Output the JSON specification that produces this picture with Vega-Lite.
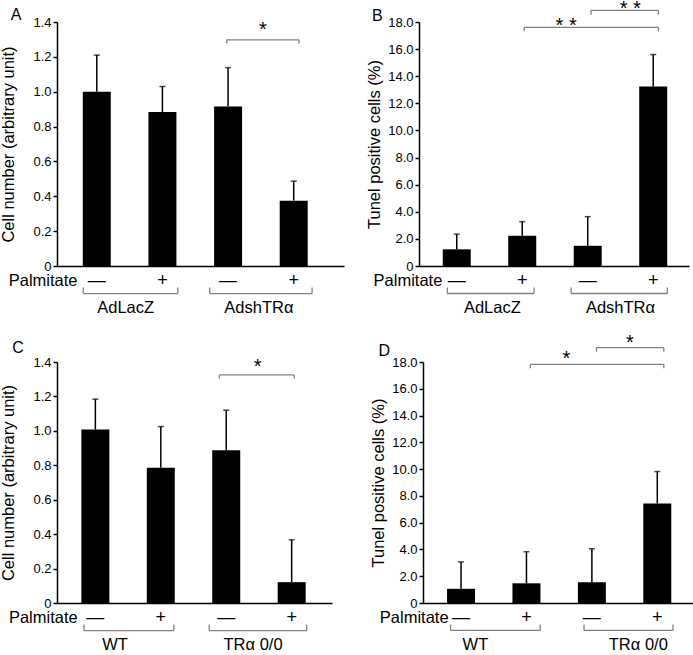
{
  "$schema": "https://vega.github.io/schema/vega-lite/v6.json",
  "padding": {"left": 0, "top": -2, "right": 0, "bottom": 0},
  "spacing": 16,
  "datasets": {
    "A": [
      {"k": "bar", "x": 1, "y": 1.0, "u": 1.21},
      {"k": "bar", "x": 2, "y": 0.883, "u": 1.03},
      {"k": "bar", "x": 3, "y": 0.915, "u": 1.138},
      {"k": "bar", "x": 4, "y": 0.375, "u": 0.487},
      {"k": "sign", "x": 1, "y": -0.086, "t": "—"},
      {"k": "sign", "x": 2, "y": -0.086, "t": "+"},
      {"k": "sign", "x": 3, "y": -0.086, "t": "—"},
      {"k": "sign", "x": 4, "y": -0.086, "t": "+"},
      {"k": "br", "x": 0.794, "x2": 2.235, "y": -0.158, "y2": -0.123},
      {"k": "br", "x": 2.72, "x2": 4.28, "y": -0.158, "y2": -0.123},
      {"k": "br", "x": 2.98, "x2": 4.08, "y": 1.298, "y2": 1.277},
      {"k": "lab", "x": 1.44, "y": -0.241, "t": "AdLacZ"},
      {"k": "lab", "x": 3.47, "y": -0.241, "t": "AdshTRα"},
      {"k": "star", "x": 3.53, "y": 1.38, "t": "*"},
      {"k": "palm", "x": 0.706, "y": -0.088, "t": "Palmitate"},
      {"k": "let", "x": -0.31, "y": 1.411, "t": "A"}
    ],
    "B": [
      {"k": "bar", "x": 1, "y": 1.23, "u": 2.35},
      {"k": "bar", "x": 2, "y": 2.23, "u": 3.27},
      {"k": "bar", "x": 3, "y": 1.49, "u": 3.64},
      {"k": "bar", "x": 4, "y": 13.25, "u": 15.6},
      {"k": "sign", "x": 1, "y": -1.106, "t": "—"},
      {"k": "sign", "x": 2, "y": -1.106, "t": "+"},
      {"k": "sign", "x": 3, "y": -1.106, "t": "—"},
      {"k": "sign", "x": 4, "y": -1.106, "t": "+"},
      {"k": "br", "x": 0.857, "x2": 2.18, "y": -2.03, "y2": -1.585},
      {"k": "br", "x": 2.746, "x2": 4.216, "y": -2.03, "y2": -1.585},
      {"k": "br", "x": 2.03, "x2": 4.08, "y": 17.6, "y2": 17.31},
      {"k": "br", "x": 3.05, "x2": 4.08, "y": 18.86, "y2": 18.53},
      {"k": "lab", "x": 1.544, "y": -3.1, "t": "AdLacZ"},
      {"k": "lab", "x": 3.5, "y": -3.1, "t": "AdshTRα"},
      {"k": "star", "x": 2.67, "y": 18.07, "t": "* *"},
      {"k": "star", "x": 3.65, "y": 19.36, "t": "* *"},
      {"k": "palm", "x": 0.78, "y": -1.13, "t": "Palmitate"},
      {"k": "let", "x": -0.294, "y": 18.05, "t": "B"}
    ],
    "C": [
      {"k": "bar", "x": 1, "y": 1.008, "u": 1.184},
      {"k": "bar", "x": 2, "y": 0.786, "u": 1.025},
      {"k": "bar", "x": 3, "y": 0.887, "u": 1.12},
      {"k": "bar", "x": 4, "y": 0.121, "u": 0.367},
      {"k": "sign", "x": 1, "y": -0.087, "t": "—"},
      {"k": "sign", "x": 2, "y": -0.087, "t": "+"},
      {"k": "sign", "x": 3, "y": -0.087, "t": "—"},
      {"k": "sign", "x": 4, "y": -0.087, "t": "+"},
      {"k": "br", "x": 0.826, "x2": 2.2, "y": -0.16, "y2": -0.125},
      {"k": "br", "x": 2.74, "x2": 4.23, "y": -0.16, "y2": -0.125},
      {"k": "br", "x": 2.894, "x2": 4.04, "y": 1.325, "y2": 1.302},
      {"k": "lab", "x": 1.3, "y": -0.244, "t": "WT"},
      {"k": "lab", "x": 3.41, "y": -0.244, "t": "TRα 0/0"},
      {"k": "star", "x": 3.48, "y": 1.402, "t": "*"},
      {"k": "palm", "x": 0.73, "y": -0.089, "t": "Palmitate"},
      {"k": "let", "x": -0.27, "y": 1.45, "t": "C"}
    ],
    "D": [
      {"k": "bar", "x": 1, "y": 1.06, "u": 3.07},
      {"k": "bar", "x": 2, "y": 1.47, "u": 3.83},
      {"k": "bar", "x": 3, "y": 1.55, "u": 4.05},
      {"k": "bar", "x": 4, "y": 7.44, "u": 9.82},
      {"k": "sign", "x": 1, "y": -1.12, "t": "—"},
      {"k": "sign", "x": 2, "y": -1.12, "t": "+"},
      {"k": "sign", "x": 3, "y": -1.12, "t": "—"},
      {"k": "sign", "x": 4, "y": -1.12, "t": "+"},
      {"k": "br", "x": 0.84, "x2": 2.21, "y": -2.05, "y2": -1.606},
      {"k": "br", "x": 2.88, "x2": 4.24, "y": -2.05, "y2": -1.606},
      {"k": "br", "x": 2.06, "x2": 4.1, "y": 17.83, "y2": 17.53},
      {"k": "br", "x": 3.07, "x2": 4.1, "y": 19.07, "y2": 18.77},
      {"k": "lab", "x": 1.22, "y": -3.14, "t": "WT"},
      {"k": "lab", "x": 3.71, "y": -3.14, "t": "TRα 0/0"},
      {"k": "star", "x": 2.61, "y": 18.57, "t": "*"},
      {"k": "star", "x": 3.58, "y": 19.77, "t": "*"},
      {"k": "palm", "x": 0.81, "y": -1.14, "t": "Palmitate"},
      {"k": "let", "x": -0.26, "y": 18.47, "t": "D"}
    ]
  },
  "vconcat": [
    {
      "spacing": 22,
      "hconcat": [
        {
          "width": 287, "height": 244,
          "data": {"name": "A"},
          "layer": [
            {"transform": [{"filter": "datum.k=='bar'"}], "mark": {"type": "bar", "size": 28, "color": "black"},
             "encoding": {"x": {"field": "x", "type": "quantitative", "scale": {"domain": [0.47, 4.69]}, "axis": {"title": null, "ticks": false, "labels": false}},
                          "y": {"field": "y", "type": "quantitative", "scale": {"domain": [0, 1.4]}, "axis": {"title": "Cell number (arbitrary unit)", "values": [0, 0.2, 0.4, 0.6, 0.8, 1, 1.2, 1.4], "tickCount": 20, "labelExpr": "datum.value==0?'0':format(datum.value,'.1f')", "titlePadding": 16, "labelOverlap": false, "labelFlush": false, "labelBound": false}}}},
            {"transform": [{"filter": "datum.k=='bar'"}], "mark": {"type": "rule", "color": "black", "strokeWidth": 1.5},
             "encoding": {"x": {"field": "x", "type": "quantitative", "scale": {"domain": [0.47, 4.69]}}, "y": {"field": "y", "type": "quantitative", "scale": {"domain": [0, 1.4]}}, "y2": {"field": "u"}}},
            {"transform": [{"filter": "datum.k=='bar'"}], "mark": {"type": "tick", "orient": "horizontal", "size": 6, "thickness": 1.5, "color": "black"},
             "encoding": {"x": {"field": "x", "type": "quantitative", "scale": {"domain": [0.47, 4.69]}}, "y": {"field": "u", "type": "quantitative", "scale": {"domain": [0, 1.4]}}}},
            {"transform": [{"filter": "datum.k=='br'"}], "mark": {"type": "rule", "color": "#808080", "strokeWidth": 1.3},
             "encoding": {"x": {"field": "x", "type": "quantitative", "scale": {"domain": [0.47, 4.69]}}, "x2": {"field": "x2"}, "y": {"field": "y", "type": "quantitative", "scale": {"domain": [0, 1.4]}}}},
            {"transform": [{"filter": "datum.k=='br'"}], "mark": {"type": "rule", "color": "#808080", "strokeWidth": 1.3},
             "encoding": {"x": {"field": "x", "type": "quantitative", "scale": {"domain": [0.47, 4.69]}}, "y": {"field": "y", "type": "quantitative", "scale": {"domain": [0, 1.4]}}, "y2": {"field": "y2"}}},
            {"transform": [{"filter": "datum.k=='br'"}], "mark": {"type": "rule", "color": "#808080", "strokeWidth": 1.3},
             "encoding": {"x": {"field": "x2", "type": "quantitative", "scale": {"domain": [0.47, 4.69]}}, "y": {"field": "y", "type": "quantitative", "scale": {"domain": [0, 1.4]}}, "y2": {"field": "y2"}}},
            {"transform": [{"filter": "datum.k=='sign'"}], "mark": {"type": "text", "fontSize": 18, "baseline": "middle"},
             "encoding": {"x": {"field": "x", "type": "quantitative", "scale": {"domain": [0.47, 4.69]}}, "y": {"field": "y", "type": "quantitative", "scale": {"domain": [0, 1.4]}}, "text": {"field": "t"}}},
            {"transform": [{"filter": "datum.k=='lab'"}], "mark": {"type": "text", "fontSize": 16.5, "baseline": "middle"},
             "encoding": {"x": {"field": "x", "type": "quantitative", "scale": {"domain": [0.47, 4.69]}}, "y": {"field": "y", "type": "quantitative", "scale": {"domain": [0, 1.4]}}, "text": {"field": "t"}}},
            {"transform": [{"filter": "datum.k=='star'"}], "mark": {"type": "text", "fontSize": 20, "baseline": "alphabetic", "dy": 11},
             "encoding": {"x": {"field": "x", "type": "quantitative", "scale": {"domain": [0.47, 4.69]}}, "y": {"field": "y", "type": "quantitative", "scale": {"domain": [0, 1.4]}}, "text": {"field": "t"}}},
            {"transform": [{"filter": "datum.k=='palm'"}], "mark": {"type": "text", "fontSize": 16.5, "baseline": "middle", "align": "right"},
             "encoding": {"x": {"field": "x", "type": "quantitative", "scale": {"domain": [0.47, 4.69]}}, "y": {"field": "y", "type": "quantitative", "scale": {"domain": [0, 1.4]}}, "text": {"field": "t"}}},
            {"transform": [{"filter": "datum.k=='let'"}], "mark": {"type": "text", "fontSize": 16, "baseline": "alphabetic", "align": "left"},
             "encoding": {"x": {"field": "x", "type": "quantitative", "scale": {"domain": [0.47, 4.69]}}, "y": {"field": "y", "type": "quantitative", "scale": {"domain": [0, 1.4]}}, "text": {"field": "t"}}}
          ]
        },
        {
          "width": 270, "height": 244,
          "data": {"name": "B"},
          "layer": [
            {"transform": [{"filter": "datum.k=='bar'"}], "mark": {"type": "bar", "size": 28, "color": "black"},
             "encoding": {"x": {"field": "x", "type": "quantitative", "scale": {"domain": [0.5, 4.47]}, "axis": {"title": null, "ticks": false, "labels": false}},
                          "y": {"field": "y", "type": "quantitative", "scale": {"domain": [0, 18]}, "axis": {"title": "Tunel positive cells (%)", "values": [0, 2, 4, 6, 8, 10, 12, 14, 16, 18], "tickCount": 20, "labelExpr": "datum.value==0?'0':format(datum.value,'.1f')", "titlePadding": 5, "labelOverlap": false, "labelFlush": false, "labelBound": false}}}},
            {"transform": [{"filter": "datum.k=='bar'"}], "mark": {"type": "rule", "color": "black", "strokeWidth": 1.5},
             "encoding": {"x": {"field": "x", "type": "quantitative", "scale": {"domain": [0.5, 4.47]}}, "y": {"field": "y", "type": "quantitative", "scale": {"domain": [0, 18]}}, "y2": {"field": "u"}}},
            {"transform": [{"filter": "datum.k=='bar'"}], "mark": {"type": "tick", "orient": "horizontal", "size": 6, "thickness": 1.5, "color": "black"},
             "encoding": {"x": {"field": "x", "type": "quantitative", "scale": {"domain": [0.5, 4.47]}}, "y": {"field": "u", "type": "quantitative", "scale": {"domain": [0, 18]}}}},
            {"transform": [{"filter": "datum.k=='br'"}], "mark": {"type": "rule", "color": "#808080", "strokeWidth": 1.3},
             "encoding": {"x": {"field": "x", "type": "quantitative", "scale": {"domain": [0.5, 4.47]}}, "x2": {"field": "x2"}, "y": {"field": "y", "type": "quantitative", "scale": {"domain": [0, 18]}}}},
            {"transform": [{"filter": "datum.k=='br'"}], "mark": {"type": "rule", "color": "#808080", "strokeWidth": 1.3},
             "encoding": {"x": {"field": "x", "type": "quantitative", "scale": {"domain": [0.5, 4.47]}}, "y": {"field": "y", "type": "quantitative", "scale": {"domain": [0, 18]}}, "y2": {"field": "y2"}}},
            {"transform": [{"filter": "datum.k=='br'"}], "mark": {"type": "rule", "color": "#808080", "strokeWidth": 1.3},
             "encoding": {"x": {"field": "x2", "type": "quantitative", "scale": {"domain": [0.5, 4.47]}}, "y": {"field": "y", "type": "quantitative", "scale": {"domain": [0, 18]}}, "y2": {"field": "y2"}}},
            {"transform": [{"filter": "datum.k=='sign'"}], "mark": {"type": "text", "fontSize": 18, "baseline": "middle"},
             "encoding": {"x": {"field": "x", "type": "quantitative", "scale": {"domain": [0.5, 4.47]}}, "y": {"field": "y", "type": "quantitative", "scale": {"domain": [0, 18]}}, "text": {"field": "t"}}},
            {"transform": [{"filter": "datum.k=='lab'"}], "mark": {"type": "text", "fontSize": 16.5, "baseline": "middle"},
             "encoding": {"x": {"field": "x", "type": "quantitative", "scale": {"domain": [0.5, 4.47]}}, "y": {"field": "y", "type": "quantitative", "scale": {"domain": [0, 18]}}, "text": {"field": "t"}}},
            {"transform": [{"filter": "datum.k=='star'"}], "mark": {"type": "text", "fontSize": 20, "baseline": "alphabetic", "dy": 11},
             "encoding": {"x": {"field": "x", "type": "quantitative", "scale": {"domain": [0.5, 4.47]}}, "y": {"field": "y", "type": "quantitative", "scale": {"domain": [0, 18]}}, "text": {"field": "t"}}},
            {"transform": [{"filter": "datum.k=='palm'"}], "mark": {"type": "text", "fontSize": 16.5, "baseline": "middle", "align": "right"},
             "encoding": {"x": {"field": "x", "type": "quantitative", "scale": {"domain": [0.5, 4.47]}}, "y": {"field": "y", "type": "quantitative", "scale": {"domain": [0, 18]}}, "text": {"field": "t"}}},
            {"transform": [{"filter": "datum.k=='let'"}], "mark": {"type": "text", "fontSize": 16, "baseline": "alphabetic", "align": "left"},
             "encoding": {"x": {"field": "x", "type": "quantitative", "scale": {"domain": [0.5, 4.47]}}, "y": {"field": "y", "type": "quantitative", "scale": {"domain": [0, 18]}}, "text": {"field": "t"}}}
          ]
        }
      ]
    },
    {
      "spacing": 38,
      "hconcat": [
        {
          "width": 275, "height": 241,
          "data": {"name": "C"},
          "layer": [
            {"transform": [{"filter": "datum.k=='bar'"}], "mark": {"type": "bar", "size": 28, "color": "black"},
             "encoding": {"x": {"field": "x", "type": "quantitative", "scale": {"domain": [0.49, 4.54]}, "axis": {"title": null, "ticks": false, "labels": false}},
                          "y": {"field": "y", "type": "quantitative", "scale": {"domain": [0, 1.4]}, "axis": {"title": "Cell number (arbitrary unit)", "values": [0, 0.2, 0.4, 0.6, 0.8, 1, 1.2, 1.4], "tickCount": 20, "labelExpr": "datum.value==0?'0':format(datum.value,'.1f')", "titlePadding": 16, "labelOverlap": false, "labelFlush": false, "labelBound": false}}}},
            {"transform": [{"filter": "datum.k=='bar'"}], "mark": {"type": "rule", "color": "black", "strokeWidth": 1.5},
             "encoding": {"x": {"field": "x", "type": "quantitative", "scale": {"domain": [0.49, 4.54]}}, "y": {"field": "y", "type": "quantitative", "scale": {"domain": [0, 1.4]}}, "y2": {"field": "u"}}},
            {"transform": [{"filter": "datum.k=='bar'"}], "mark": {"type": "tick", "orient": "horizontal", "size": 6, "thickness": 1.5, "color": "black"},
             "encoding": {"x": {"field": "x", "type": "quantitative", "scale": {"domain": [0.49, 4.54]}}, "y": {"field": "u", "type": "quantitative", "scale": {"domain": [0, 1.4]}}}},
            {"transform": [{"filter": "datum.k=='br'"}], "mark": {"type": "rule", "color": "#808080", "strokeWidth": 1.3},
             "encoding": {"x": {"field": "x", "type": "quantitative", "scale": {"domain": [0.49, 4.54]}}, "x2": {"field": "x2"}, "y": {"field": "y", "type": "quantitative", "scale": {"domain": [0, 1.4]}}}},
            {"transform": [{"filter": "datum.k=='br'"}], "mark": {"type": "rule", "color": "#808080", "strokeWidth": 1.3},
             "encoding": {"x": {"field": "x", "type": "quantitative", "scale": {"domain": [0.49, 4.54]}}, "y": {"field": "y", "type": "quantitative", "scale": {"domain": [0, 1.4]}}, "y2": {"field": "y2"}}},
            {"transform": [{"filter": "datum.k=='br'"}], "mark": {"type": "rule", "color": "#808080", "strokeWidth": 1.3},
             "encoding": {"x": {"field": "x2", "type": "quantitative", "scale": {"domain": [0.49, 4.54]}}, "y": {"field": "y", "type": "quantitative", "scale": {"domain": [0, 1.4]}}, "y2": {"field": "y2"}}},
            {"transform": [{"filter": "datum.k=='sign'"}], "mark": {"type": "text", "fontSize": 18, "baseline": "middle"},
             "encoding": {"x": {"field": "x", "type": "quantitative", "scale": {"domain": [0.49, 4.54]}}, "y": {"field": "y", "type": "quantitative", "scale": {"domain": [0, 1.4]}}, "text": {"field": "t"}}},
            {"transform": [{"filter": "datum.k=='lab'"}], "mark": {"type": "text", "fontSize": 16.5, "baseline": "middle"},
             "encoding": {"x": {"field": "x", "type": "quantitative", "scale": {"domain": [0.49, 4.54]}}, "y": {"field": "y", "type": "quantitative", "scale": {"domain": [0, 1.4]}}, "text": {"field": "t"}}},
            {"transform": [{"filter": "datum.k=='star'"}], "mark": {"type": "text", "fontSize": 20, "baseline": "alphabetic", "dy": 11},
             "encoding": {"x": {"field": "x", "type": "quantitative", "scale": {"domain": [0.49, 4.54]}}, "y": {"field": "y", "type": "quantitative", "scale": {"domain": [0, 1.4]}}, "text": {"field": "t"}}},
            {"transform": [{"filter": "datum.k=='palm'"}], "mark": {"type": "text", "fontSize": 16.5, "baseline": "middle", "align": "right"},
             "encoding": {"x": {"field": "x", "type": "quantitative", "scale": {"domain": [0.49, 4.54]}}, "y": {"field": "y", "type": "quantitative", "scale": {"domain": [0, 1.4]}}, "text": {"field": "t"}}},
            {"transform": [{"filter": "datum.k=='let'"}], "mark": {"type": "text", "fontSize": 16, "baseline": "alphabetic", "align": "left"},
             "encoding": {"x": {"field": "x", "type": "quantitative", "scale": {"domain": [0.49, 4.54]}}, "y": {"field": "y", "type": "quantitative", "scale": {"domain": [0, 1.4]}}, "text": {"field": "t"}}}
          ]
        },
        {
          "width": 272, "height": 241,
          "data": {"name": "D"},
          "layer": [
            {"transform": [{"filter": "datum.k=='bar'"}], "mark": {"type": "bar", "size": 28, "color": "black"},
             "encoding": {"x": {"field": "x", "type": "quantitative", "scale": {"domain": [0.495, 4.5]}, "axis": {"title": null, "ticks": false, "labels": false}},
                          "y": {"field": "y", "type": "quantitative", "scale": {"domain": [0, 18]}, "axis": {"title": "Tunel positive cells (%)", "values": [0, 2, 4, 6, 8, 10, 12, 14, 16, 18], "tickCount": 20, "labelExpr": "datum.value==0?'0':format(datum.value,'.1f')", "titlePadding": 5, "labelOverlap": false, "labelFlush": false, "labelBound": false}}}},
            {"transform": [{"filter": "datum.k=='bar'"}], "mark": {"type": "rule", "color": "black", "strokeWidth": 1.5},
             "encoding": {"x": {"field": "x", "type": "quantitative", "scale": {"domain": [0.495, 4.5]}}, "y": {"field": "y", "type": "quantitative", "scale": {"domain": [0, 18]}}, "y2": {"field": "u"}}},
            {"transform": [{"filter": "datum.k=='bar'"}], "mark": {"type": "tick", "orient": "horizontal", "size": 6, "thickness": 1.5, "color": "black"},
             "encoding": {"x": {"field": "x", "type": "quantitative", "scale": {"domain": [0.495, 4.5]}}, "y": {"field": "u", "type": "quantitative", "scale": {"domain": [0, 18]}}}},
            {"transform": [{"filter": "datum.k=='br'"}], "mark": {"type": "rule", "color": "#808080", "strokeWidth": 1.3},
             "encoding": {"x": {"field": "x", "type": "quantitative", "scale": {"domain": [0.495, 4.5]}}, "x2": {"field": "x2"}, "y": {"field": "y", "type": "quantitative", "scale": {"domain": [0, 18]}}}},
            {"transform": [{"filter": "datum.k=='br'"}], "mark": {"type": "rule", "color": "#808080", "strokeWidth": 1.3},
             "encoding": {"x": {"field": "x", "type": "quantitative", "scale": {"domain": [0.495, 4.5]}}, "y": {"field": "y", "type": "quantitative", "scale": {"domain": [0, 18]}}, "y2": {"field": "y2"}}},
            {"transform": [{"filter": "datum.k=='br'"}], "mark": {"type": "rule", "color": "#808080", "strokeWidth": 1.3},
             "encoding": {"x": {"field": "x2", "type": "quantitative", "scale": {"domain": [0.495, 4.5]}}, "y": {"field": "y", "type": "quantitative", "scale": {"domain": [0, 18]}}, "y2": {"field": "y2"}}},
            {"transform": [{"filter": "datum.k=='sign'"}], "mark": {"type": "text", "fontSize": 18, "baseline": "middle"},
             "encoding": {"x": {"field": "x", "type": "quantitative", "scale": {"domain": [0.495, 4.5]}}, "y": {"field": "y", "type": "quantitative", "scale": {"domain": [0, 18]}}, "text": {"field": "t"}}},
            {"transform": [{"filter": "datum.k=='lab'"}], "mark": {"type": "text", "fontSize": 16.5, "baseline": "middle"},
             "encoding": {"x": {"field": "x", "type": "quantitative", "scale": {"domain": [0.495, 4.5]}}, "y": {"field": "y", "type": "quantitative", "scale": {"domain": [0, 18]}}, "text": {"field": "t"}}},
            {"transform": [{"filter": "datum.k=='star'"}], "mark": {"type": "text", "fontSize": 20, "baseline": "alphabetic", "dy": 11},
             "encoding": {"x": {"field": "x", "type": "quantitative", "scale": {"domain": [0.495, 4.5]}}, "y": {"field": "y", "type": "quantitative", "scale": {"domain": [0, 18]}}, "text": {"field": "t"}}},
            {"transform": [{"filter": "datum.k=='palm'"}], "mark": {"type": "text", "fontSize": 16.5, "baseline": "middle", "align": "right"},
             "encoding": {"x": {"field": "x", "type": "quantitative", "scale": {"domain": [0.495, 4.5]}}, "y": {"field": "y", "type": "quantitative", "scale": {"domain": [0, 18]}}, "text": {"field": "t"}}},
            {"transform": [{"filter": "datum.k=='let'"}], "mark": {"type": "text", "fontSize": 16, "baseline": "alphabetic", "align": "left"},
             "encoding": {"x": {"field": "x", "type": "quantitative", "scale": {"domain": [0.495, 4.5]}}, "y": {"field": "y", "type": "quantitative", "scale": {"domain": [0, 18]}}, "text": {"field": "t"}}}
          ]
        }
      ]
    }
  ],
  "config": {
    "view": {"stroke": null},
    "font": "Liberation Sans",
    "text": {"font": "Liberation Sans", "color": "black"},
    "axis": {
      "domainColor": "black", "domainWidth": 1.5,
      "tickColor": "black", "tickWidth": 1.5, "tickSize": 4,
      "labelColor": "black", "labelFont": "Liberation Sans", "labelFontSize": 13, "labelPadding": 2,
      "titleColor": "black", "titleFont": "Liberation Sans", "titleFontSize": 16.5, "titleFontWeight": "normal",
      "grid": false
    }
  }
}
